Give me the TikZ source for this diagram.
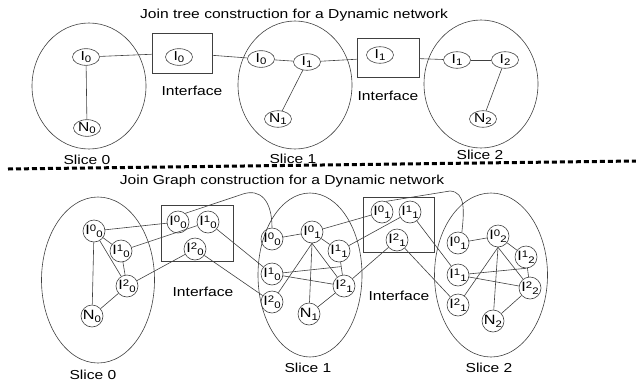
\documentclass[tikz,border=0pt]{standalone}
\usepackage{fontspec}
\setmainfont{Liberation Sans}[FakeStretch=1.2]
\usetikzlibrary{shapes.geometric,calc}
\newcommand\Sb[1]{\raisebox{-0.4ex}{\fontsize{9.5}{9.5}\selectfont #1}}
\newcommand\Sp[1]{\raisebox{0.5ex}{\fontsize{9.5}{9.5}\selectfont #1}}
\newcommand\lbl[3]{#1\Sp{#2}\Sb{#3}}
\begin{document}
\begin{tikzpicture}[x=1pt,y=-1pt,
  ln/.style={draw=black!75, line width=0.6pt},
  tnode/.style={ellipse, ln, minimum width=27pt, minimum height=16pt, inner sep=0pt, font=\fontsize{13}{13}\selectfont},
  gnode/.style={circle, ln, minimum size=22pt, inner sep=0pt, font=\fontsize{13.5}{13.5}\selectfont},
  slice/.style={ellipse, ln, inner sep=0pt},
  ibox/.style={rectangle, ln, inner sep=0pt},
  lab/.style={font=\fontsize{13}{15}\selectfont, inner sep=0pt},
  dashln/.style={line width=3pt, dash pattern=on 5pt off 3pt, black}]
\useasboundingbox (0,0) rectangle (636,383);
% ---------- top: join tree ----------
\node[lab] (title1) at (294,15) {Join tree construction for a Dynamic network};
\node[slice, minimum width=114pt, minimum height=126pt] (T0) at (89,86) {};
\node[slice, minimum width=114pt, minimum height=128pt] (T1) at (295,85) {};
\node[slice, minimum width=114pt, minimum height=128pt] (T2) at (481,84) {};
\node[ibox, minimum width=60pt, minimum height=40pt] (B1) at (182,53) {};
\node[ibox, minimum width=62pt, minimum height=39pt] (B2) at (388,57.5) {};
\node[tnode] (a0) at (86,57) {I\Sb{0}};
\node[tnode] (an) at (87,128) {N\Sb{0}};
\node[tnode] (b0) at (179,57) {I\Sb{0}};
\node[tnode] (c0) at (261,59) {I\Sb{0}};
\node[tnode] (c1) at (307,62) {I\Sb{1}};
\node[tnode] (cn) at (278,119) {N\Sb{1}};
\node[tnode] (b1) at (380,55) {I\Sb{1}};
\node[tnode] (d1) at (457,60) {I\Sb{1}};
\node[tnode] (d2) at (505,60) {I\Sb{2}};
\node[tnode] (dn) at (483,119) {N\Sb{2}};
\node[lab] (if1) at (192,91) {Interface};
\node[lab] (if2) at (388,96) {Interface};
\node[lab] (sl0) at (87,160) {Slice 0};
\node[lab] (sl1) at (293,159) {Slice 1};
\node[lab] (sl2) at (480,155) {Slice 2};
\draw[ln] (a0) -- (an);
\draw[ln] (a0) -- (B1);
\draw[ln] (B1) -- (c0);
\draw[ln] (c0) -- (c1);
\draw[ln] (c1) -- (cn);
\draw[ln] (c1) -- (B2);
\draw[ln] (B2) -- (d1);
\draw[ln] (d1) -- (d2);
\draw[ln] (d2) -- (dn);
% ---------- separator ----------
\coordinate (dl) at (8,169);
\coordinate (dr) at (636,161);
\draw[dashln] (dl) -- (dr);
% ---------- bottom: join graph ----------
\node[lab] (title2) at (282,181) {Join Graph construction for a Dynamic network};
\node[slice, minimum width=113pt, minimum height=166pt] (S0) at (98,280) {};
\node[slice, minimum width=104pt, minimum height=164pt] (S1) at (310,275) {};
\node[slice, minimum width=113pt, minimum height=164pt] (S2) at (491,275) {};
\node[ibox, minimum width=72pt, minimum height=56pt] (B3) at (197,233) {};
\node[ibox, minimum width=71pt, minimum height=55pt] (B4) at (398.5,224.5) {};
% slice 0
\node[gnode] (g0a) at (94,231) {\lbl{I}{0}{0}};
\node[gnode] (g0b) at (121,251) {\lbl{I}{1}{0}};
\node[gnode] (g0c) at (127,286) {\lbl{I}{2}{0}};
\node[gnode] (g0n) at (92,316) {N\Sb{0}};
% interface 0
\node[gnode] (i0a) at (178,222) {\lbl{I}{0}{0}};
\node[gnode] (i0b) at (208,222) {\lbl{I}{1}{0}};
\node[gnode] (i0c) at (195,249) {\lbl{I}{2}{0}};
% slice 1
\node[gnode] (g1a) at (272,239) {\lbl{I}{0}{0}};
\node[gnode] (g1b) at (272,274) {\lbl{I}{1}{0}};
\node[gnode] (g1c) at (272,302) {\lbl{I}{2}{0}};
\node[gnode] (h1a) at (312,232) {\lbl{I}{0}{1}};
\node[gnode] (h1b) at (339,251) {\lbl{I}{1}{1}};
\node[gnode] (h1c) at (344,286) {\lbl{I}{2}{1}};
\node[gnode] (g1n) at (309,314) {N\Sb{1}};
% interface 1
\node[gnode] (i1a) at (382,212) {\lbl{I}{0}{1}};
\node[gnode] (i1b) at (410,212) {\lbl{I}{1}{1}};
\node[gnode] (i1c) at (397,240) {\lbl{I}{2}{1}};
% slice 2
\node[gnode] (g2a) at (458,243) {\lbl{I}{0}{1}};
\node[gnode] (g2b) at (458,275) {\lbl{I}{1}{1}};
\node[gnode] (g2c) at (458,305) {\lbl{I}{2}{1}};
\node[gnode] (h2a) at (498,236) {\lbl{I}{0}{2}};
\node[gnode] (h2b) at (526,257) {\lbl{I}{1}{2}};
\node[gnode] (h2c) at (530,288) {\lbl{I}{2}{2}};
\node[gnode] (g2n) at (493,321) {N\Sb{2}};
% labels
\node[lab] (if3) at (203,292) {Interface};
\node[lab] (if4) at (399,296) {Interface};
\node[lab] (sl3) at (93,375) {Slice 0};
\node[lab] (sl4) at (308,368) {Slice 1};
\node[lab] (sl5) at (489,368) {Slice 2};
% edges slice 0
\draw[ln] (g0a) -- (i0a);
\draw[ln] (g0a) -- (g0b);
\draw[ln] (g0a) -- (g0c);
\draw[ln] (g0a) -- (g0n);
\draw[ln] (g0b) -- (g0c);
\draw[ln] (g0b) -- (i0b);
\draw[ln] (g0c) -- (i0c);
\draw[ln] (g0n) -- (g0c);
% interface 0 to slice 1
\coordinate (k1) at (243,194);
\draw[ln] (i0a.50) -- (k1) .. controls (260,188.5) and (272,200) .. (g1a.north);
\draw[ln] (i0b) -- (g1b);
\draw[ln] (i0c) -- (g1c);
% edges slice 1
\coordinate (m1) at ($(h1b.south)!0.35!(h1c.north)$);
\draw[ln] (g1a) -- (h1a);
\draw[ln] (h1a) -- (i1a);
\draw[ln] (h1a) -- (h1b);
\draw[ln] (h1a.south) -- (g1n);
\draw[ln] (h1a.south) -- (h1c);
\draw[ln] (h1a.south) -- (g1c);
\draw[ln] (g1b) -- (m1);
\draw[ln] (g1b) -- (h1c);
\draw[ln] (h1b) -- (h1c);
\draw[ln] (h1b) -- (i1b);
\draw[ln] (h1c) -- (i1c);
\draw[ln] (g1n) -- (h1c);
% interface 1 to slice 2
\coordinate (k2) at (450,191);
\draw[ln] (i1a.70) -- (k2) .. controls (466,192) and (464,212) .. (g2a.70);
\draw[ln] (i1b) -- (g2b);
\draw[ln] (i1c) -- (g2c);
% edges slice 2
\draw[ln] (g2a) -- (h2a);
\draw[ln] (h2a) -- (h2b);
\draw[ln] (h2a.south) -- (g2n);
\draw[ln] (h2a.south) -- (h2c);
\draw[ln] (h2a.south) -- (g2c);
\draw[ln] (g2b) -- (h2b.south);
\draw[ln] (g2b) -- (h2c);
\draw[ln] (h2b) -- (h2c);
\draw[ln] (g2n) -- (h2c);
\end{tikzpicture}
\end{document}
